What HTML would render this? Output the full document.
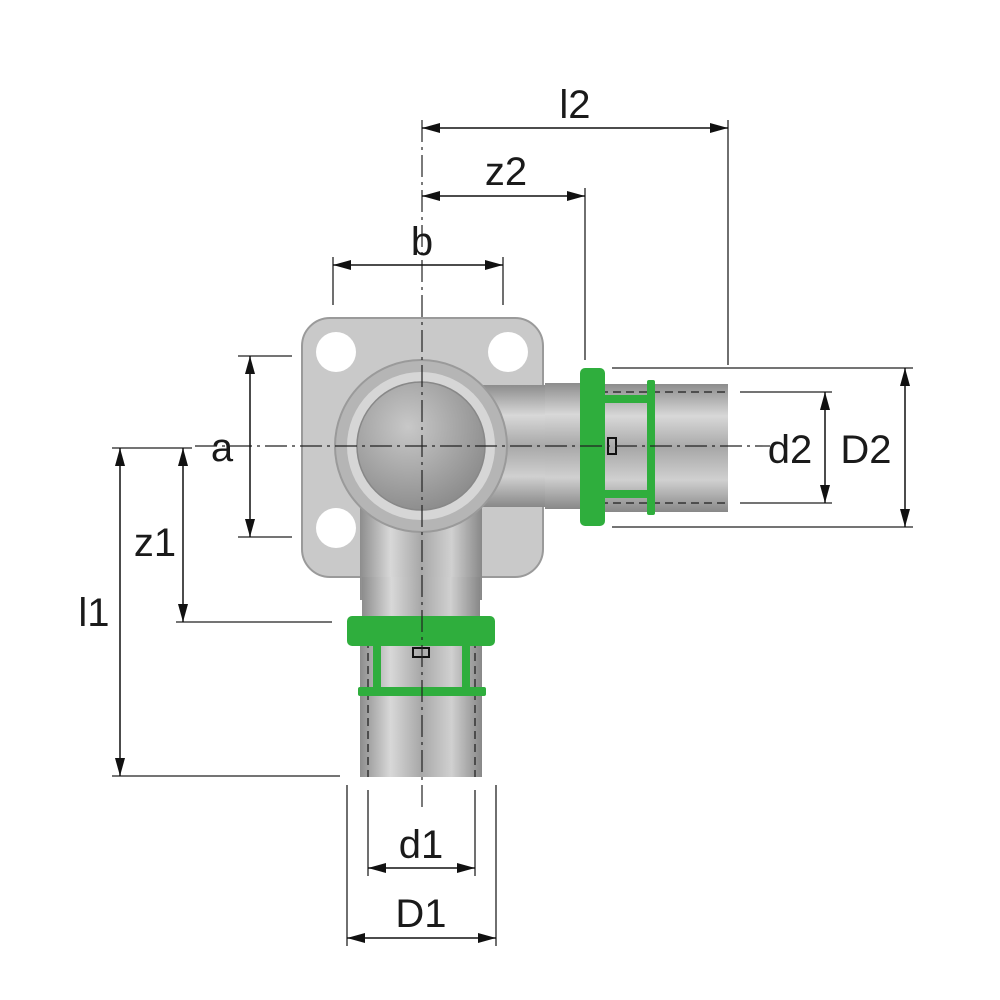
<!DOCTYPE html>
<html><head><meta charset="utf-8"><style>
html,body{margin:0;padding:0;background:#fff;}
svg{display:block;}
text{font-family:"Liberation Sans",sans-serif;font-size:40px;fill:#1a1a1a;}
</style></head><body>
<svg width="1000" height="1000" viewBox="0 0 1000 1000" xmlns="http://www.w3.org/2000/svg">
<defs>
<marker id="a" markerWidth="18" markerHeight="10" refX="18" refY="5" orient="auto" markerUnits="userSpaceOnUse">
<path d="M0,0 L18,5 L0,10 Z" fill="#111"/></marker>
<marker id="s" markerWidth="18" markerHeight="10" refX="0" refY="5" orient="auto" markerUnits="userSpaceOnUse">
<path d="M18,0 L0,5 L18,10 Z" fill="#111"/></marker>
<linearGradient id="ph" x1="0" y1="0" x2="0" y2="1">
<stop offset="0" stop-color="#8d8d8d"/><stop offset="0.25" stop-color="#d8d8d8"/><stop offset="0.5" stop-color="#a8a8a8"/><stop offset="0.75" stop-color="#d0d0d0"/><stop offset="1" stop-color="#888"/></linearGradient>
<linearGradient id="pv" x1="0" y1="0" x2="1" y2="0">
<stop offset="0" stop-color="#8d8d8d"/><stop offset="0.25" stop-color="#d8d8d8"/><stop offset="0.5" stop-color="#a8a8a8"/><stop offset="0.75" stop-color="#d0d0d0"/><stop offset="1" stop-color="#888"/></linearGradient>
<radialGradient id="disc" cx="0.4" cy="0.35" r="0.7"><stop offset="0" stop-color="#c8c8c8"/><stop offset="1" stop-color="#8a8a8a"/></radialGradient>
</defs>

<!-- fitting body -->
<rect x="302" y="318" width="241" height="259" rx="28" fill="#c9c9c9" stroke="#9a9a9a" stroke-width="2"/>
<circle cx="336" cy="352" r="20" fill="#fff"/>
<circle cx="508" cy="352" r="20" fill="#fff"/>
<circle cx="336" cy="528" r="20" fill="#fff"/>
<!-- elbow -->
<rect x="360" y="440" width="122" height="160" fill="url(#pv)"/>
<rect x="420" y="385" width="140" height="122" fill="url(#ph)"/>
<circle cx="421" cy="446" r="86" fill="#b5b5b5" stroke="#9a9a9a" stroke-width="2"/>
<circle cx="421" cy="446" r="74" fill="#d6d6d6"/>
<circle cx="421" cy="446" r="64" fill="url(#disc)" stroke="#888" stroke-width="1.5"/>
<!-- right neck -->
<rect x="545" y="383" width="40" height="126" fill="url(#ph)"/>
<!-- right pipe -->
<rect x="600" y="384" width="128" height="128" fill="url(#ph)"/>
<line x1="600" y1="392" x2="728" y2="392" stroke="#333" stroke-width="1.5" stroke-dasharray="8,5"/>
<line x1="600" y1="503" x2="728" y2="503" stroke="#333" stroke-width="1.5" stroke-dasharray="8,5"/>
<rect x="580" y="368" width="25" height="158" rx="5" fill="#2fae3d"/>
<rect x="605" y="395" width="48" height="8" fill="#2fae3d"/>
<rect x="605" y="490" width="48" height="8" fill="#2fae3d"/>
<rect x="647" y="380" width="8" height="135" rx="2" fill="#2fae3d"/>
<rect x="608" y="438" width="8" height="16" fill="none" stroke="#111" stroke-width="2"/>
<!-- bottom neck and pipe -->
<rect x="362" y="577" width="118" height="40" fill="url(#pv)"/>
<rect x="360" y="640" width="122" height="137" fill="url(#pv)"/>
<line x1="368" y1="640" x2="368" y2="777" stroke="#333" stroke-width="1.5" stroke-dasharray="8,5"/>
<line x1="475" y1="640" x2="475" y2="777" stroke="#333" stroke-width="1.5" stroke-dasharray="8,5"/>
<rect x="347" y="616" width="148" height="30" rx="5" fill="#2fae3d"/>
<rect x="373" y="645" width="8" height="48" fill="#2fae3d"/>
<rect x="462" y="645" width="8" height="48" fill="#2fae3d"/>
<rect x="358" y="687" width="128" height="9" rx="2" fill="#2fae3d"/>
<rect x="413" y="648" width="16" height="9" fill="none" stroke="#111" stroke-width="2"/>

<!-- center lines -->
<g stroke="#222" stroke-width="1.2" stroke-dasharray="22,5,3,5" fill="none">
<line x1="422" y1="120" x2="422" y2="808"/>
<line x1="195" y1="446" x2="770" y2="446"/>
</g>

<!-- extension lines -->
<g stroke="#222" stroke-width="1.3" fill="none">
<line x1="728" y1="120" x2="728" y2="365"/>
<line x1="585" y1="188" x2="585" y2="360"/>
<line x1="333" y1="257" x2="333" y2="305"/>
<line x1="503" y1="257" x2="503" y2="305"/>
<line x1="238" y1="356" x2="292" y2="356"/>
<line x1="238" y1="537" x2="292" y2="537"/>
<line x1="112" y1="448" x2="192" y2="448"/>
<line x1="176" y1="622" x2="332" y2="622"/>
<line x1="112" y1="776" x2="340" y2="776"/>
<line x1="368" y1="790" x2="368" y2="876"/>
<line x1="475" y1="790" x2="475" y2="876"/>
<line x1="347" y1="785" x2="347" y2="946"/>
<line x1="496" y1="785" x2="496" y2="946"/>
<line x1="740" y1="392" x2="832" y2="392"/>
<line x1="740" y1="503" x2="832" y2="503"/>
<line x1="612" y1="368" x2="913" y2="368"/>
<line x1="612" y1="527" x2="913" y2="527"/>
</g>

<!-- dimension lines -->
<g stroke="#111" stroke-width="1.5" fill="none">
<line x1="422" y1="128" x2="728" y2="128" marker-start="url(#s)" marker-end="url(#a)"/>
<line x1="422" y1="196" x2="585" y2="196" marker-start="url(#s)" marker-end="url(#a)"/>
<line x1="333" y1="265" x2="503" y2="265" marker-start="url(#s)" marker-end="url(#a)"/>
<line x1="250" y1="356" x2="250" y2="537" marker-start="url(#s)" marker-end="url(#a)"/>
<line x1="183" y1="448" x2="183" y2="622" marker-start="url(#s)" marker-end="url(#a)"/>
<line x1="120" y1="448" x2="120" y2="776" marker-start="url(#s)" marker-end="url(#a)"/>
<line x1="368" y1="868" x2="475" y2="868" marker-start="url(#s)" marker-end="url(#a)"/>
<line x1="347" y1="938" x2="496" y2="938" marker-start="url(#s)" marker-end="url(#a)"/>
<line x1="825" y1="392" x2="825" y2="503" marker-start="url(#s)" marker-end="url(#a)"/>
<line x1="905" y1="368" x2="905" y2="527" marker-start="url(#s)" marker-end="url(#a)"/>
</g>

<g text-anchor="middle">
<text x="575" y="118">l2</text>
<text x="506" y="185">z2</text>
<text x="422" y="255">b</text>
<text x="222" y="461">a</text>
<text x="155" y="556">z1</text>
<text x="94" y="626">l1</text>
<text x="790" y="463">d2</text>
<text x="866" y="463">D2</text>
<text x="421" y="858">d1</text>
<text x="421" y="927">D1</text>
</g>
</svg>
</body></html>
